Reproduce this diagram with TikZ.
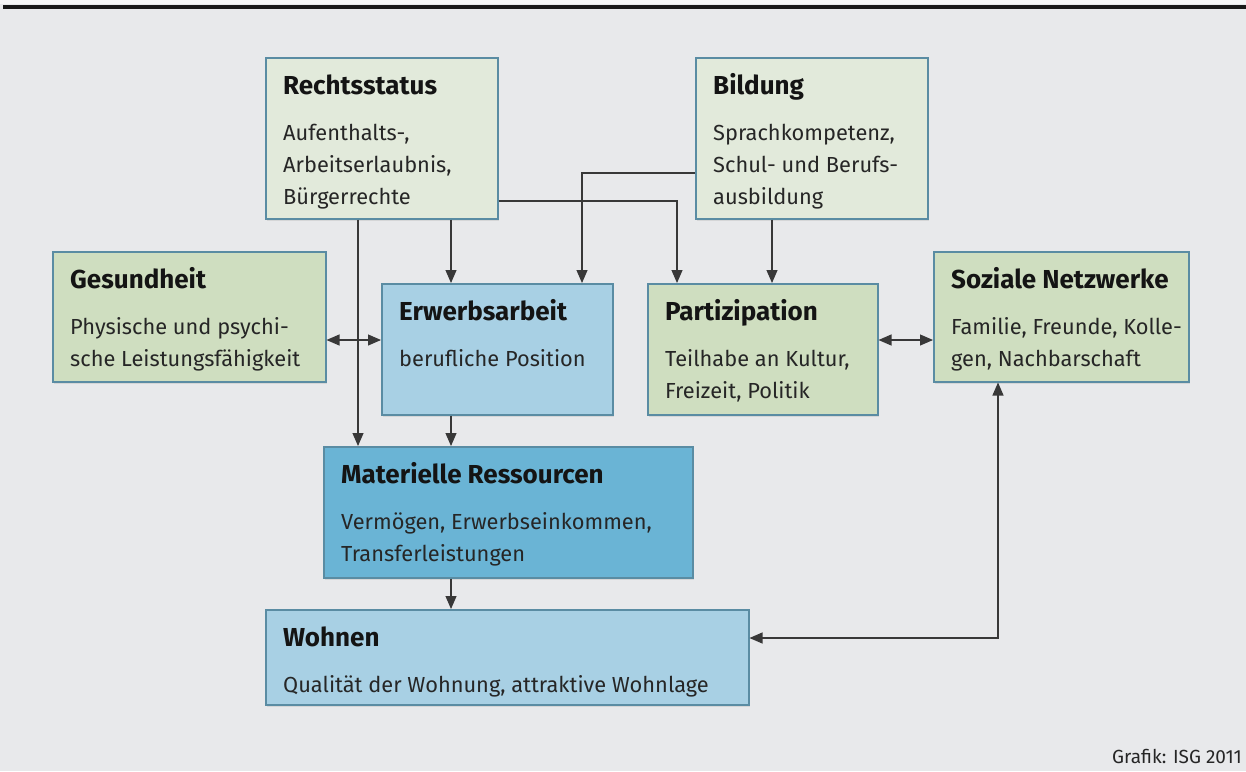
\documentclass[tikz,border=0pt]{standalone}
\usepackage{fontspec}
\setmainfont{Fira Sans}
\usetikzlibrary{arrows.meta,shadows}

\definecolor{hgrund}{HTML}{E8E9EB}
\definecolor{hellgruen}{HTML}{E2EADB}
\definecolor{gruen}{HTML}{CFDEC0}
\definecolor{hellblau}{HTML}{A8D0E4}
\definecolor{blau}{HTML}{6AB4D5}
\definecolor{rahmen}{HTML}{5A8CA3}

\tikzset{
  kasten/.style={draw=rahmen, line width=1.5pt, anchor=north west, inner sep=0pt,
    drop shadow={shadow xshift=1pt, shadow yshift=-2pt, opacity=0.18}},
  titel/.style={anchor=base west, inner sep=0pt, font=\fontsize{26}{30}\selectfont\bfseries, text=black!92},
  inhalt/.style={anchor=north west, inner sep=0pt, align=left, font=\fontsize{21.8}{32}\selectfont, text=black!85},
  pfeil/.style={-{Triangle[length=13pt,width=11pt]}, line width=1.1pt, draw=black!78},
  pfeile/.style={{Triangle[length=13pt,width=11pt]}-{Triangle[length=13pt,width=11pt]}, line width=1.1pt, draw=black!78}
}

% titel und text in einen kasten
\newcommand{\beschrift}[3]{%
  \node[titel] (#1-t) at ([shift={(18,37)}]#1.north west) {#2};
  \node[inhalt] (#1-b) at ([shift={(18,60.6)}]#1.north west) {\strut#3};
}

\begin{document}
\begin{tikzpicture}[x=1pt,y=-1pt]
    \fill[hgrund] (0,0) rectangle (1246,771);
    \fill[hgrund!40!white] (0,0) rectangle (1246,4);
    \useasboundingbox (0,0) rectangle (1246,771);
    \draw[line width=4pt, black!90] (3,7) -- (1246,7);

    % kaesten
    \node[kasten, fill=hellgruen, minimum width=232, minimum height=161] (rs) at (265,57) {};
    \node[kasten, fill=hellgruen, minimum width=232, minimum height=161] (bild) at (695,57) {};
    \node[kasten, fill=gruen, minimum width=273, minimum height=130] (ges) at (52,251) {};
    \node[kasten, fill=hellblau, minimum width=231, minimum height=131] (erw) at (381,283) {};
    \node[kasten, fill=gruen, minimum width=230, minimum height=131] (part) at (647,283) {};
    \node[kasten, fill=gruen, minimum width=255, minimum height=130] (soz) at (933,251) {};
    \node[kasten, fill=blau, minimum width=369, minimum height=131] (mat) at (323,446) {};
    \node[kasten, fill=hellblau, minimum width=483, minimum height=95] (wohn) at (265,609) {};

    \beschrift{rs}{Rechtsstatus}{Aufenthalts-,\\Arbeitserlaubnis,\\Bürgerrechte}
    \beschrift{bild}{Bildung}{Sprachkompetenz,\\Schul- und Berufs-\\ausbildung}
    \beschrift{ges}{Gesundheit}{Physische und psychi-\\sche Leistungsfähigkeit}
    \beschrift{erw}{Erwerbsarbeit}{berufliche Position}
    \beschrift{part}{Partizipation}{Teilhabe an Kultur,\\Freizeit, Politik}
    \beschrift{soz}{Soziale Netzwerke}{Familie, Freunde, Kolle-\\gen, Nachbarschaft}
    \beschrift{mat}{Materielle Ressourcen}{Vermögen, Erwerbseinkommen,\\Transferleistungen}
    \beschrift{wohn}{Wohnen}{Qualität der Wohnung, attraktive Wohnlage}

    % hilfspunkte fuer die pfeile
    \coordinate (k1) at (358,0);
    \coordinate (k2) at (451,0);
    \coordinate (k3) at (677,201);
    \coordinate (k4) at (582,173);
    \coordinate (k5) at (772,0);
    \coordinate (k6) at (0,340);
    \coordinate (k7) at (998,638);

    \draw[pfeil] (rs.south -| k1) -- (mat.north -| k1);
    \draw[pfeil] (rs.south -| k2) -- (erw.north -| k2);
    \draw[pfeil] (erw.south -| k2) -- (mat.north -| k2);
    \draw[pfeil] (mat.south -| k2) -- (wohn.north -| k2);
    \draw[pfeil] (rs.east |- k3) -| (part.north -| k3);
    \draw[pfeil] (bild.west |- k4) -| (erw.north -| k4);
    \draw[pfeil] (bild.south -| k5) -- (part.north -| k5);
    \draw[pfeile] (ges.east |- k6) -- (erw.west |- k6);
    \draw[pfeile] (part.east |- k6) -- (soz.west |- k6);
    \draw[pfeile] (wohn.east |- k7) -| (soz.south -| k7);

    \node[anchor=base east, inner sep=0pt, font=\fontsize{19}{22}\selectfont, text=black!85] (quelle) at (1242,763) {Grafik: ISG 2011};
\end{tikzpicture}
\end{document}
